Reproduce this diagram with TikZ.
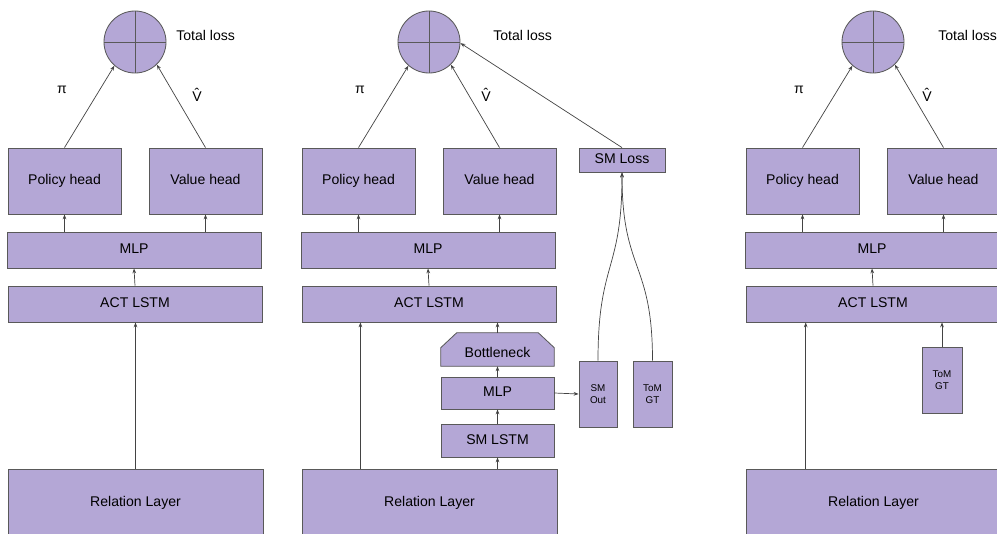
\documentclass[tikz,border=0pt]{standalone}
\usepackage{fontspec}
\setmainfont{Liberation Sans}
\usetikzlibrary{arrows.meta,calc,backgrounds}
\definecolor{boxfill}{HTML}{B4A7D6}
\definecolor{boxline}{HTML}{595959}
\definecolor{arrline}{HTML}{434343}

\begin{document}
\begin{tikzpicture}[
        x=0.025cm, y=-0.025cm,
        font=\fontsize{10}{12}\selectfont,
        blk/.style={draw=boxline, fill=boxfill, line width=0.6pt, inner sep=0pt},
        lbl/.style={blk, text height=0.72em, text depth=0.22em},
        sz/.style 2 args={minimum width=#1*0.025cm, minimum height=#2*0.025cm},
        loss/.style={blk, circle, minimum size=1.55cm},
        smalltxt/.style={font=\fontsize{7}{8.5}\selectfont, align=center},
        arrow/.style={-{Stealth[length=3.5pt,width=2.6pt]}, draw=arrline, line width=0.5pt}
    ]
    \clip (0,0) rectangle (997,533);

    % the three agents share the same trunk
    \foreach \p/\dx/\tl/\pix/\vx/\f in {L/0/176/62/197/0.5, M/294/493/360/486/0.23, R/738/938/799/927/0.235}
    {
        \node[loss] (circ\p) at (\dx+135,42) {};
        \draw[boxline, line width=0.6pt] (circ\p.north) -- (circ\p.south) (circ\p.west) -- (circ\p.east);
        \node[anchor=west, inner sep=0pt] (tl\p) at (\tl,35) {Total loss};
        \node (pi\p) at (\pix,90) {π};
        \node (vh\p) at (\vx,95) {\^{V}};

        \node[lbl, sz={113}{66}] (pol\p) at (\dx+64.5,181) {Policy head};
        \node[lbl, sz={113}{66}] (val\p) at (\dx+205.5,181) {Value head};
        \node[lbl, sz={254}{36}] (mlp\p) at (\dx+134,250) {MLP};
        \node[lbl, sz={254}{36}] (act\p) at (\dx+135,304) {ACT LSTM};
        \node[lbl, sz={255}{68}] (rel\p) at (\dx+135.5,503) {Relation Layer};

        \draw[arrow] (pol\p.north) -- (circ\p.229);
        \draw[arrow] (val\p.north) -- (circ\p.314);
        \draw[arrow] (mlp\p.north -| pol\p) -- (pol\p.south);
        \draw[arrow] (mlp\p.north -| val\p) -- (val\p.south);
        \draw[arrow] (act\p.north) -- (mlp\p.south);
        \path ($(rel\p.north west)!\f!(rel\p.north east)$) coordinate (rin\p);
        \draw[arrow] (rin\p) -- (rin\p |- act\p.south);
    }

    % self-model branch (middle)
    \node[lbl, sz={86}{24}] (smlossM) at (622,160) {SM Loss};
    \node[inner sep=0pt, sz={113}{24}, text height=0.72em, text depth=0.22em] (bnM) at (497.5,354) {Bottleneck};
    \node[lbl, sz={113}{32}] (mlp2M) at (497.5,393) {MLP};
    \node[lbl, sz={113}{33}] (smlstmM) at (497.5,440.5) {SM LSTM};
    \node[blk, sz={38}{66}, smalltxt] (smoutM) at (598,394) {SM\\Out};
    \node[blk, sz={39}{66}, smalltxt] (tomgtM) at (652.5,394) {ToM\\GT};
    \begin{scope}[on background layer]
        \filldraw[draw=boxline, fill=boxfill, line width=0.6pt] (bnM.south west)
            -- ([yshift=-0.15cm]bnM.north west) -- ([xshift=0.4cm,yshift=0.225cm]bnM.north west)
            -- ([xshift=-0.4cm,yshift=0.225cm]bnM.north east) -- ([yshift=-0.15cm]bnM.north east)
            -- (bnM.south east) -- cycle;
    \end{scope}

    \draw[arrow] (smlossM.north) -- (circM.-2);
    \draw[arrow] (relM.north -| smlstmM) -- (smlstmM.south);
    \draw[arrow] (smlstmM.north) -- (mlp2M.south);
    \draw[arrow] (mlp2M.north) -- (bnM.south);
    \draw[arrow] ([yshift=0.225cm]bnM.north) -- (bnM.north |- actM.south);
    \draw[arrow] (mlp2M.east) -- (smoutM.west);
    \draw[arrow] (smoutM.north) .. controls +(0,-100) and +(0,100) .. (smlossM.south);
    \draw[arrow] (tomgtM.north) .. controls +(0,-100) and +(0,100) .. (smlossM.south);

    % ground truth fed straight in (right)
    \node[blk, sz={40}{66}, smalltxt] (tomgtR) at (942,380) {ToM\\GT};
    \draw[arrow] (tomgtR.north) -- (tomgtR.north |- actR.south);
\end{tikzpicture}
\end{document}
